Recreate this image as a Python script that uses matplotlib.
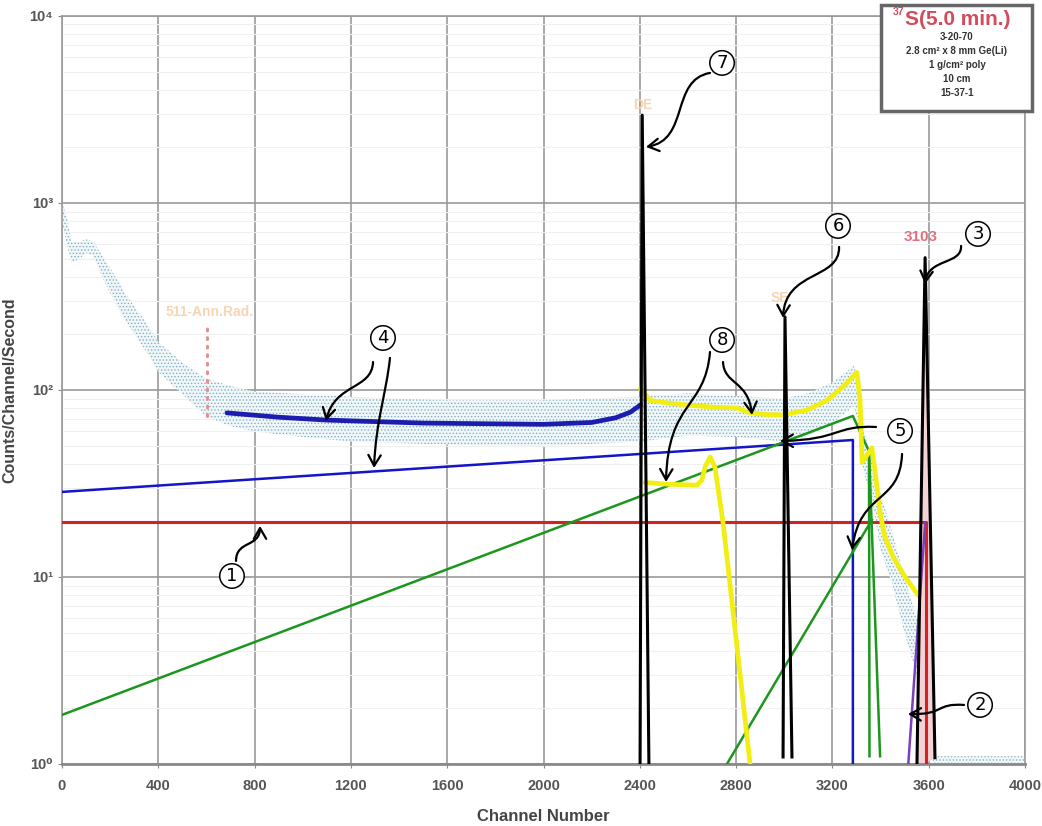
import matplotlib
matplotlib.use('Agg')
import matplotlib.pyplot as plt
from matplotlib.path import Path
from matplotlib.patches import FancyArrowPatch, Rectangle

plt.rcParams['font.family'] = ['Liberation Sans', 'DejaVu Sans']
plt.rcParams['hatch.linewidth'] = 0.6

# --- spectrum scatter band (channel, low / high counts per second) ---
cloud_ch = [0, 20, 40, 70, 100, 130, 160, 200, 250, 300, 350, 400, 450, 500, 600, 700, 800,
            1000, 1200, 1600, 2000, 2400, 2600, 2800, 3000, 3100, 3200, 3290, 3310, 3330,
            3360, 3400, 3450, 3500, 3550, 3600, 3620, 4000]
cloud_lo = [800, 600, 480, 500, 540, 520, 420, 330, 250, 200, 160, 125, 108, 95, 72, 64, 60,
            56, 53, 51, 50, 53, 57, 56, 53, 57, 66, 82, 62, 36, 28, 14, 9, 5, 3, 1.5, 0.97, 0.97]
cloud_hi = [1000, 850, 620, 620, 640, 620, 540, 450, 350, 280, 230, 180, 160, 140, 115, 105, 98,
            95, 92, 88, 88, 92, 96, 93, 90, 96, 110, 135, 110, 60, 45, 28, 17, 10, 6, 3, 1.1, 1.1]

# annihilation radiation marker
ann_ch = [602, 602]
ann_val = [73, 223]

# background fit (thick blue)
bgfit_ch = [685, 900, 1100, 1500, 2000, 2200, 2300, 2360, 2402]
bgfit_val = [75.4, 71.5, 69, 66.5, 65.5, 67, 71, 76, 83]

# compton plateau (thin blue)
compton_ch = [0, 3285, 3285]
compton_val = [28.5, 54, 0.9]

# flat continuum (red)
flat_ch = [0, 3589, 3589]
flat_val = [19.7, 19.7, 0.9]

# green components
green_ch = [0, 3285, 3352, 3354]
green_val = [1.83, 72.6, 47, 1.1]
green2_ch = [3352, 3398]
green2_val = [47, 1.1]
green3_ch = [2762, 3364]
green3_val = [1.0, 20.2]

# purple edge
purple_ch = [3514, 3585]
purple_val = [0.95, 19.4]

# yellow components
yel_hi_ch = [2402, 2442, 2520, 2600, 2700, 2804, 2858, 2920, 2995, 3094, 3178, 3244, 3302,
             3315, 3323, 3364, 3377, 3398, 3418, 3452, 3502, 3556]
yel_hi_val = [102, 88, 85, 83, 81, 80, 75.5, 74, 73.6, 78, 88, 104, 124,
              88, 41, 49, 37, 22, 16.4, 12.8, 10, 8.0]
yel_lo_ch = [2422, 2520, 2638, 2658, 2671, 2692, 2712, 2746, 2804, 2858]
yel_lo_val = [32, 31.3, 31, 33, 38.7, 43.8, 38.7, 19.4, 4.2, 1.0]

# full-energy and escape peaks
de_ch = [2401, 2410, 2438]
de_val = [0.95, 2950, 0.95]
se_ch = [2995, 3003, 3032]
se_val = [1.09, 246, 1.09]
pk_ch = [3551, 3585, 3626]
pk_val = [0.97, 510, 1.08]

xticks = list(range(0, 4001, 400))
yticks = [1, 10, 100, 1000, 10000]
ylabels = ['10\u2070', '10\u00b9', '10\u00b2', '10\u00b3', '10\u2074']

# circled callouts (axes fraction)
callouts = {'1': (0.1765, 0.2513), '2': (0.9533, 0.0789), '3': (0.9512, 0.7086),
            '4': (0.3333, 0.5695), '5': (0.8702, 0.4452), '6': (0.8058, 0.7193),
            '7': (0.6854, 0.9372), '8': (0.6854, 0.5668)}
# curved arrows: tail, ctrl1, ctrl2, head (axes fraction)
arrows = [
    [(0.1807, 0.2714), (0.1807, 0.2995), (0.2056, 0.2888), (0.2056, 0.3182)],
    [(0.9367, 0.0789), (0.9065, 0.0816), (0.9169, 0.0655), (0.8785, 0.0668)],
    [(0.9336, 0.6925), (0.9346, 0.6671), (0.8993, 0.6765), (0.8962, 0.6417)],
    [(0.3230, 0.5374), (0.3219, 0.5000), (0.2835, 0.5094), (0.2741, 0.4586)],
    [(0.3406, 0.5428), (0.3364, 0.4933), (0.3261, 0.4599), (0.3240, 0.3957)],
    [(0.8453, 0.4505), (0.8027, 0.4532), (0.8079, 0.4332), (0.7456, 0.4318)],
    [(0.8723, 0.4144), (0.8702, 0.3463), (0.8287, 0.3663), (0.8204, 0.2861)],
    [(0.8069, 0.6912), (0.8079, 0.6471), (0.7508, 0.6604), (0.7487, 0.5963)],
    [(0.6729, 0.9238), (0.6314, 0.9144), (0.6521, 0.8342), (0.6064, 0.8249)],
    [(0.6729, 0.5508), (0.6677, 0.4733), (0.6293, 0.4866), (0.6272, 0.3770)],
    [(0.6864, 0.5374), (0.6875, 0.5067), (0.7124, 0.5134), (0.7165, 0.4666)],
]

fig = plt.figure(figsize=(10.42, 8.26), dpi=100)
ax = fig.add_axes([0.0595, 0.0751, 0.9242, 0.9056])
ax.set_yscale('log')
ax.set_xlim(0, 4000)
ax.set_ylim(1, 10000)

# grid
ax.set_xticks(xticks)
ax.set_yticks(yticks)
ax.set_yticklabels(ylabels)
ax.set_yticks([m * 10 ** e for e in range(4) for m in range(2, 10)], minor=True)
ax.yaxis.set_minor_formatter(plt.NullFormatter())
ax.grid(True, which='major', color='#9a9a9a', lw=1.2, zorder=0)
ax.grid(True, which='minor', axis='y', color='#f0f0f0', lw=0.8, zorder=0)
ax.set_axisbelow(True)
ax.tick_params(axis='y', which='minor', length=0)
ax.tick_params(axis='both', which='major', labelsize=10.5, labelcolor='#555555',
               color='#888888', length=3)
ax.tick_params(axis='x', pad=8)
for lbl in ax.get_xticklabels() + ax.get_yticklabels():
    lbl.set_fontweight('bold')
for s in ax.spines.values():
    s.set_color('#9a9a9a')
    s.set_linewidth(1.2)
ax.spines['bottom'].set_linewidth(2)
ax.spines['bottom'].set_color('#8a8a8a')

ax.set_xlabel('Channel Number', fontsize=12, fontweight='bold', color='#444444', labelpad=11)
ax.set_ylabel('Counts/Channel/Second', fontsize=11.5, fontweight='bold', color='#444444')
ax.yaxis.set_label_coords(-0.046, 0.5)

# spectrum dots
ax.fill_between(cloud_ch, cloud_lo, cloud_hi, facecolor='#f1f7f9', edgecolor='none', zorder=1)
ax.fill_between(cloud_ch, cloud_lo, cloud_hi, facecolor='none', edgecolor='#80b0c2',
                hatch='.....', linewidth=0, zorder=1)

ax.plot(ann_ch, ann_val, color='#e59090', lw=2.2, ls=(0, (0.6, 2.2)),
        solid_capstyle='round', dash_capstyle='round', zorder=2)
ax.text(615, 262, '511-Ann.Rad.', color='#f7d5b2', fontsize=10, fontweight='bold',
        ha='center', va='center', zorder=2)

ax.fill(pk_ch, pk_val, color='#f3d3d6', zorder=2)

ax.plot(flat_ch, flat_val, color='#d42222', lw=2.2, zorder=3)
ax.plot(compton_ch, compton_val, color='#1414c8', lw=1.8, zorder=3)
ax.plot(green_ch, green_val, color='#1d961d', lw=1.8, zorder=3)
ax.plot(green2_ch, green2_val, color='#1d961d', lw=1.8, zorder=3)
ax.plot(green3_ch, green3_val, color='#1d961d', lw=1.8, zorder=3)
ax.plot(purple_ch, purple_val, color='#7a3fbf', lw=1.8, zorder=3)
ax.plot(bgfit_ch, bgfit_val, color='#1c1cae', lw=3.4, solid_capstyle='round', zorder=4)
ax.plot(yel_hi_ch, yel_hi_val, color='#f2ee12', lw=3.4, solid_joinstyle='round',
        solid_capstyle='round', zorder=4)
ax.plot(yel_lo_ch, yel_lo_val, color='#f2ee12', lw=3.4, solid_joinstyle='round',
        solid_capstyle='round', zorder=4)

for pc, pv in [(de_ch, de_val), (se_ch, se_val), (pk_ch, pk_val)]:
    ax.plot(pc, pv, color='black', lw=2.2, zorder=5)

ax.text(2413, 3360, 'DE', color='#f7d5b2', fontsize=10, fontweight='bold', ha='center', va='center', zorder=5)
ax.text(2982, 310, 'SE', color='#f7d5b2', fontsize=10, fontweight='bold', ha='center', va='center', zorder=2)
ax.text(3568, 657, '3103', color='#e0707e', fontsize=11, fontweight='bold', ha='center', va='center', zorder=5)

# callouts
for num, (fx, fy) in callouts.items():
    ax.text(fx, fy, num, transform=ax.transAxes, fontsize=13, ha='center', va='center',
            family='DejaVu Sans', zorder=7,
            bbox=dict(boxstyle='circle,pad=0.18', fc='white', ec='black', lw=1.1))
for pts in arrows:
    path = Path(pts, [Path.MOVETO, Path.CURVE4, Path.CURVE4, Path.CURVE4])
    arr = FancyArrowPatch(path=path, transform=ax.transAxes, arrowstyle='->,head_length=0.55,head_width=0.32',
                          mutation_scale=14, color='black', lw=1.6, zorder=7)
    ax.add_patch(arr)

# info box
fig.patches.append(Rectangle((0.8455, 0.8656), 0.1449, 0.1283, transform=fig.transFigure,
                             fc='white', ec='#666666', lw=2.5, zorder=10))
fig.text(0.8685, 0.9758, 'S(5.0 min.)', color='#d44c5c', fontsize=15, fontweight='bold',
         ha='left', va='center', zorder=11)
fig.text(0.8680, 0.9850, '37', color='#d44c5c', fontsize=7.5, fontweight='bold',
         ha='right', va='center', zorder=11)
info = ['3-20-70', '2.8 cm\u00b2 x 8 mm Ge(Li)', '1 g/cm\u00b2 poly', '10 cm', '15-37-1']
for i, line in enumerate(info):
    fig.text(0.9184, 0.9552 - i * 0.0170, line, color='#333333', fontsize=7, fontweight='bold',
             ha='center', va='center', zorder=11)

fig.savefig('out.png', dpi=100)
